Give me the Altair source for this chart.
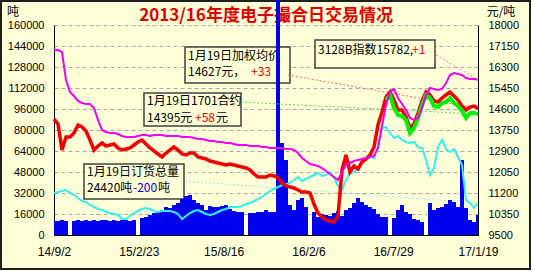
import altair as alt
import pandas as pd

# ---------------- data ----------------
# 107 evenly spaced sampling dates between the first and last axis date
sample_dates = [d.strftime("%Y-%m-%dT%H:%M:%SZ")
                for d in pd.date_range("2014-09-02", "2017-01-19", periods=107)]

tick_dates = [(2014, 9, 2), (2015, 2, 23), (2015, 8, 16), (2016, 2, 6), (2016, 7, 29), (2017, 1, 19)]

# daily volume (吨, left axis)
volume = [10667, 10667, 11429, 10667, 0, 10667, 11429, 10667, 11429, 10667,
          11429, 10667, 11429, 11429, 10667, 11429, 10667, 11429, 11429, 10667,
          11429, 0, 12952, 13714, 15238, 16762, 17524, 19048, 21333, 20571,
          22857, 24381, 27429, 29714, 30476, 26667, 24381, 22857, 19048, 22095,
          21333, 21333, 22095, 22857, 19810, 18286, 17524, 17524, 0, 16762,
          16762, 17524, 17524, 19048, 17524, 17524, 185000, 70095, 57143, 22857,
          19048, 26667, 28190, 21333, 0, 17524, 13714, 16000, 15238, 14476,
          16762, 18286, 14476, 19048, 20571, 24381, 28190, 25143, 22857, 21333,
          19810, 16000, 13714, 13714, 0, 12952, 19048, 22857, 17524, 16000,
          12190, 11429, 9905, 0, 24381, 19048, 20571, 21333, 23619, 26667,
          25143, 21333, 57143, 20571, 11429, 9905, 15238]

# 订货总量 (吨, left axis)
order_total = [32000, 32762, 33524, 34286, 32000, 30476, 28190, 25905, 25143, 22857,
               21333, 19810, 19048, 17524, 16762, 16000, 15238, 12190, 12190, 14476,
               16762, 18286, 19810, 20571, 19810, 18286, 17524, 18286, 18286, 18286,
               17524, 16000, 12190, 14476, 16762, 18286, 19048, 17524, 16000, 15238,
               16000, 17524, 19048, 19810, 21333, 21333, 21333, 22095, 23619, 24381,
               25905, 27429, 28952, 31238, 33524, 35048, 36571, 38095, 38857, 39619,
               41905, 44190, 41143, 42667, 44190, 45714, 47238, 44952, 45714, 48000,
               43429, 37333, 34286, 41905, 47238, 48000, 51048, 55619, 57143, 59429,
               58667, 67810, 81524, 82286, 77714, 73905, 75429, 72381, 70857, 70095,
               70857, 67048, 66286, 57143, 45714, 51048, 67048, 72381, 65524, 63238,
               65524, 59429, 53333, 26667, 24381, 20571, 24420]

# 加权均价 (元/吨, right axis)
avg_price = [14195, 13993, 12940, 13467, 13467, 13629, 13952, 13871, 13710, 13345,
             12940, 13102, 13224, 13102, 13143, 13183, 13021, 12940, 12981, 13021,
             13143, 13264, 13345, 13183, 13021, 12900, 12779, 12657, 12819, 12940,
             13062, 12940, 12779, 12738, 12819, 12819, 12657, 12617, 12576, 12495,
             12455, 12414, 12374, 12333, 12374, 12333, 12293, 12252, 12212, 12131,
             11969, 11848, 11848, 11848, 11929, 11888, 11807, 11605, 11483, 11443,
             11402, 11321, 11240, 11240, 11200, 10755, 10390, 10229, 10107, 10067,
             10026, 10269, 12131, 12738, 12050, 12293, 12171, 12455, 12576, 12738,
             13062, 13952, 14479, 15086, 15288, 14964, 14560, 14560, 14276, 13831,
             13993, 14438, 14924, 15288, 15167, 14924, 14883, 15045, 15167, 15288,
             15126, 14964, 14721, 14560, 14681, 14721, 14627]

# 3128B指数 (元/吨, right axis)
index_3128b = [16988, 16988, 16907, 15774, 15288, 15126, 14924, 14843, 14802, 14802,
               14640, 14155, 13750, 13669, 13629, 13629, 13588, 13507, 13467, 13467,
               13467, 13507, 13548, 13548, 13507, 13548, 13548, 13548, 13507, 13507,
               13507, 13507, 13467, 13467, 13467, 13426, 13386, 13386, 13345, 13305,
               13305, 13264, 13264, 13224, 13224, 13183, 13143, 13143, 13143, 13102,
               13102, 13102, 13062, 13062, 13021, 13021, 13021, 13021, 12981, 12981,
               12940, 12819, 12617, 12495, 12374, 12333, 12293, 12212, 12090, 11969,
               11848, 11726, 12050, 12333, 12414, 12495, 12536, 12576, 12617, 12657,
               12698, 13021, 13912, 14762, 15288, 15410, 15045, 14802, 14560, 14236,
               14155, 14236, 14640, 15167, 15450, 15410, 15369, 15410, 15652, 15976,
               16057, 16017, 15976, 15855, 15814, 15814, 15782]

# 1701合约 (元/吨, right axis) - only the last 24 sampling dates
contract_1701 = [14964, 15167, 14640, 14357, 14317, 14155, 13629, 13831, 14236, 14762,
                 15167, 15045, 14721, 14681, 14843, 14883, 15045, 14843, 14721, 14519,
                 14236, 14438, 14438, 14395]

# anchors (date, value) where each label's dotted leader line starts
anchor_total = ("2015-05-29T00:00:00Z", 41143)
anchor_avg = ("2015-12-26T00:00:00Z", 15976)
anchor_1701 = ("2015-09-21T00:00:00Z", 14883)
anchor_index = ("2016-10-25T00:00:00Z", 16786)

# ---------------- styling ----------------
BG = "#FFFFD8"
CJK = "Noto Sans CJK SC"
NUMF = "Liberation Sans"
PADL, PADT = 54, 25
W, H = 424, 210

left_df = pd.DataFrame({"date": sample_dates, "volume": volume, "total": order_total})
right_df = pd.DataFrame({"date": sample_dates, "avg": avg_price, "idx": index_3128b})
green_df = pd.DataFrame({"date": sample_dates[len(sample_dates) - len(contract_1701):],
                         "c1701": contract_1701})
lead_left = pd.DataFrame([{"d1": anchor_total[0], "v1": anchor_total[1],
                           "d2": sample_dates[-1], "v2": order_total[-1], "c": "#8CF2EC"}])
lead_right = pd.DataFrame([
    {"d1": anchor_avg[0], "v1": anchor_avg[1], "d2": sample_dates[-1], "v2": avg_price[-1], "c": "#F26A6A"},
    {"d1": anchor_1701[0], "v1": anchor_1701[1], "d2": sample_dates[-1], "v2": contract_1701[-1], "c": "#5ADF5A"},
    {"d1": anchor_index[0], "v1": anchor_index[1], "d2": sample_dates[-1], "v2": index_3128b[-1], "c": "#F27AC8"},
])

one = alt.Data(values=[{"k": 1}])

xscale = alt.Scale(type="utc", nice=False,
                   domain=[alt.DateTime(year=2014, month=9, date=2, utc=True),
                           alt.DateTime(year=2017, month=1, date=19, utc=True)])
xaxis = alt.Axis(values=[alt.DateTime(year=y, month=m, date=d, utc=True) for (y, m, d) in tick_dates],
                 labelExpr="utcFormat(datum.value, '%y/%-m/%-d')",
                 grid=False, ticks=False, domain=True, domainColor="#000000", domainWidth=1,
                 labelPadding=11, labelFontSize=12, labelFont=NUMF, labelColor="#000000",
                 labelFlush=False, labelOverlap=False, title=None)


def X(field="date"):
    return alt.X(f"{field}:T", scale=xscale, axis=xaxis, title=None)


left_scale = alt.Scale(domain=[0, 160000], nice=False, zero=True)
left_axis = alt.Axis(values=list(range(0, 160001, 16000)), format="d", grid=True, gridDash=[4, 3],
                     gridColor="#A8A8A8", gridWidth=1, ticks=False, domain=True,
                     domainColor="#000000", labelPadding=10, labelFontSize=11, labelFont=NUMF,
                     labelColor="#000000", labelOverlap=False, title=None, orient="left")
right_scale = alt.Scale(domain=[9500, 18000], nice=False, zero=False)
right_axis = alt.Axis(values=list(range(9500, 18001, 850)), format="d", grid=False, ticks=False,
                      domain=True, domainColor="#000000", labelPadding=10, labelFontSize=11,
                      labelFont=NUMF, labelColor="#000000", labelOverlap=False, title=None,
                      orient="right")


def px(v, origin):
    return alt.value(v - origin)


def rect(x0, y0, x1, y1, **kw):
    return alt.Chart(one).mark_rect(**kw).encode(
        x=px(x0, PADL), x2=px(x1, PADL), y=px(y0, PADT), y2=px(y1, PADT))


def label(x, y, s, color="#000000", size=12, weight="normal", align="left", font=CJK):
    return alt.Chart(one).mark_text(text=s, align=align, baseline="middle", fontSize=size,
                                    fontWeight=weight, color=color, font=font).encode(
        x=px(x, PADL), y=px(y, PADT))


box_style = dict(fill=BG, stroke="#404040", strokeWidth=1.5)

annotations = [
    rect(1, 1, 530, 269, fillOpacity=0, stroke="#1E1E1E", strokeWidth=2),
    rect(531, -5, 540, 280, fill="#FFFFFF"),
    rect(-5, 270, 540, 280, fill="#FFFFFF"),
    label(266, 16, "2013/16年度电子撮合日交易情况", color="#DD0000", size=17, weight="bold", align="center"),
    label(13, 12, "吨", size=12, align="center"),
    label(501, 12, "元/吨", size=12, align="center"),
    # box: 加权均价
    rect(185, 47, 290, 83, **box_style),
    label(188, 56, "1月19日加权均价"),
    label(188, 72, "14627元，"),
    label(251, 72, "+33", color="#E00000"),
    # box: 1701合约
    rect(144, 93, 241, 126, **box_style),
    label(147, 101, "1月19日1701合约"),
    label(147, 118, "14395元"),
    label(195, 118, "+58", color="#E00000"),
    label(216, 118, "元"),
    # box: 3128B指数
    rect(315, 40, 435, 68, **box_style),
    label(318, 50, "3128B指数15782,"),
    label(412, 50, "+1", color="#E00000"),
    # box: 订货总量
    rect(84, 164, 184, 199, **box_style),
    label(87, 172, "1月19日订货总量"),
    label(87, 188, "24420吨"),
    label(133, 188, "-200", color="#0000CC"),
    label(158, 188, "吨"),
]


def LY(f):
    return alt.Y(f"{f}:Q", scale=left_scale, axis=left_axis, title=None)


def RY(f):
    return alt.Y(f"{f}:Q", scale=right_scale, axis=right_axis, title=None)


vol_area = alt.Chart(left_df).mark_area(color="#0000EE", interpolate="step").encode(
    x=X(), y=LY("volume"))
total_line = alt.Chart(left_df).mark_line(color="#33F0F0", strokeWidth=2).encode(
    x=X(), y=LY("total"))
total_lead = alt.Chart(lead_left).mark_rule(strokeDash=[2, 2], strokeWidth=1).encode(
    x=X("d1"), x2="d2:T", y=LY("v1"), y2="v2:Q", color=alt.Color("c:N", scale=None))

left_group = alt.layer(*annotations, total_lead, vol_area, total_line)

right_leads = alt.Chart(lead_right).mark_rule(strokeDash=[2, 2], strokeWidth=1).encode(
    x=X("d1"), x2="d2:T", y=RY("v1"), y2="v2:Q", color=alt.Color("c:N", scale=None))
avg_line = alt.Chart(right_df).mark_line(color="#F00000", strokeWidth=3.5).encode(
    x=X(), y=RY("avg"))
c1701_line = alt.Chart(green_df).mark_line(color="#00F000", strokeWidth=4).encode(
    x=X(), y=RY("c1701"))
idx_line = alt.Chart(right_df).mark_line(color="#F000F0", strokeWidth=2).encode(
    x=X(), y=RY("idx"))

right_group = alt.layer(right_leads, avg_line, c1701_line, idx_line)

chart = alt.layer(left_group, right_group).resolve_scale(y="independent").properties(
    width=W, height=H,
    autosize=alt.AutoSizeParams(type="none"),
    padding={"left": PADL, "top": PADT, "right": 533 - PADL - W, "bottom": 273 - PADT - H},
    background=BG,
).configure_view(stroke=None)

chart.save("out.html", embed_options={"renderer": "svg", "actions": False})
